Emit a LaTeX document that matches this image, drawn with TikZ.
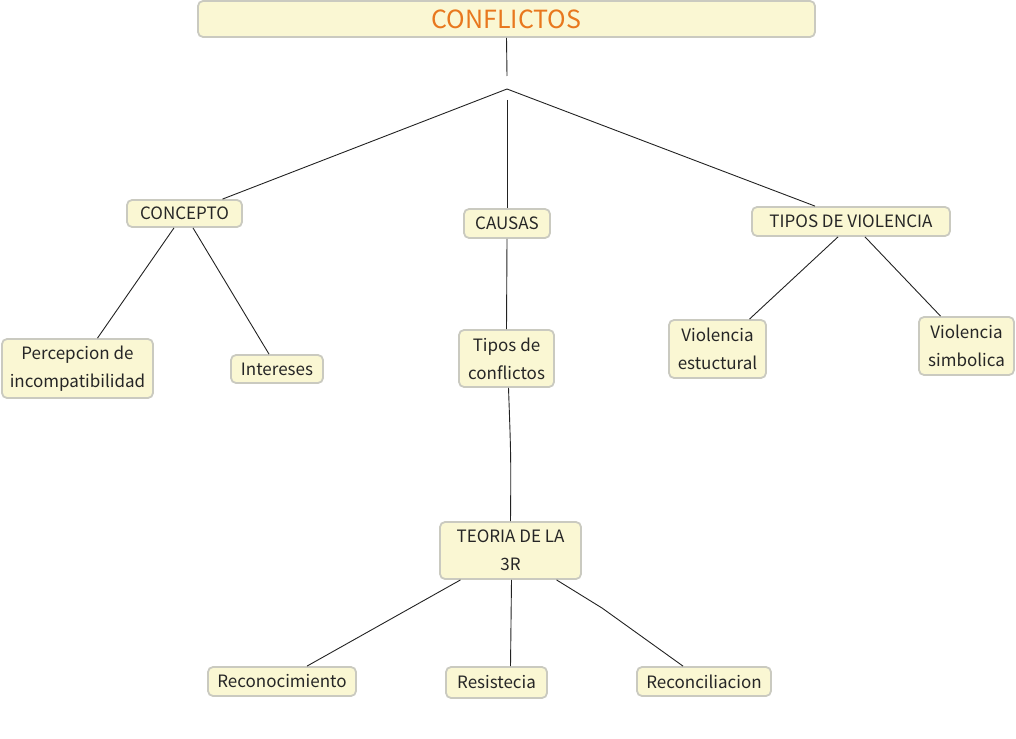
\documentclass[tikz,border=0pt]{standalone}
\usepackage{fontspec}
\setmainfont{Noto Sans CJK JP}
\definecolor{boxfill}{HTML}{FAF7D3}
\definecolor{boxline}{HTML}{CACAC0}
\definecolor{titlec}{HTML}{E8781E}
\definecolor{linec}{HTML}{222222}
\begin{document}
\begin{tikzpicture}[x=1pt,y=1pt,
  box/.style={draw=boxline, fill=boxfill, line width=1.8pt, rounded corners=5pt,
    inner sep=0pt, align=center, font=\fontsize{17}{28}\selectfont, text=black!85},
  conn/.style={draw=linec, line width=0.9pt}]
\useasboundingbox (0,0) rectangle (1016,-738);

\node[box, minimum width=617, minimum height=36, text=titlec, font=\fontsize{25}{29}\selectfont] (title) at (506.5,-19) {CONFLICTOS};

\node[box, minimum width=115, minimum height=27] (concepto) at (184.5,-213.5) {CONCEPTO};
\node[box, minimum width=86, minimum height=29] (causas) at (507,-223.5) {CAUSAS};
\node[box, minimum width=198, minimum height=29] (tiposv) at (851,-221.5) {TIPOS DE VIOLENCIA};

\node[box, minimum width=151, minimum height=59] (percep) at (77.5,-368.5) {Percepcion de\\incompatibilidad};
\node[box, minimum width=92, minimum height=28] (inter) at (277,-369) {Intereses};
\node[box, minimum width=95, minimum height=57] (tiposc) at (506.5,-358.5) {Tipos de\\conflictos};
\node[box, minimum width=97, minimum height=58] (vest) at (717.5,-349) {Violencia\\estuctural};
\node[box, minimum width=95, minimum height=58] (vsim) at (966.5,-346) {Violencia\\simbolica};

\node[box, minimum width=141, minimum height=57] (teoria) at (510.5,-550.5) {TEORIA DE LA\\3R};

\node[box, minimum width=148, minimum height=29] (recon) at (282,-681.5) {Reconocimiento};
\node[box, minimum width=101, minimum height=31] (resis) at (496.5,-682.5) {Resistecia};
\node[box, minimum width=134, minimum height=29] (reconc) at (704,-681.5) {Reconciliacion};

\coordinate (topend) at (507,-76);
\coordinate (junc) at (507,-89);
\coordinate (midstart) at (507,-100);
\coordinate (bend) at (602,-608);

\draw[conn] (title.south) -- (topend);
\draw[conn] (junc) -- ([xshift=38pt]concepto.north);
\draw[conn] (midstart) -- (causas.north);
\draw[conn] (junc) -- ([xshift=-36pt]tiposv.north);

\draw[conn] ([xshift=-10.5pt]concepto.south) -- ([xshift=20pt]percep.north);
\draw[conn] ([xshift=8.5pt]concepto.south) -- ([xshift=-8pt]inter.north);

\draw[conn] (causas.south) -- (tiposc.north);
\draw[conn] ([xshift=2pt]tiposc.south) .. controls ([xshift=4.5pt,yshift=-70pt]tiposc.south) .. (teoria.north);

\draw[conn] ([xshift=-13pt]tiposv.south) -- ([xshift=32pt]vest.north);
\draw[conn] ([xshift=14pt]tiposv.south) -- ([xshift=-26pt]vsim.north);

\draw[conn] ([xshift=-50pt]teoria.south) -- ([xshift=25pt]recon.north);
\draw[conn] ([xshift=1pt]teoria.south) -- ([xshift=14pt]resis.north);
\draw[conn] ([xshift=46pt]teoria.south) -- (bend) -- ([xshift=-21pt]reconc.north);
\end{tikzpicture}
\end{document}
